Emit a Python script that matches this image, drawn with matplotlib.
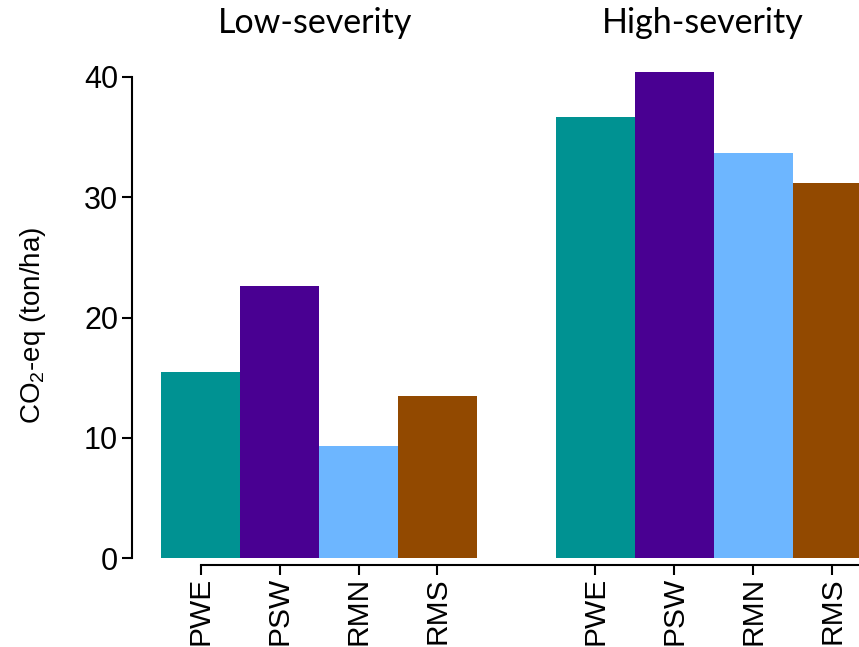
import matplotlib
matplotlib.use("Agg")
import matplotlib.pyplot as plt
import numpy as np

# Dados
sites = ['PWE', 'PSW', 'RMN', 'RMS']
low_severity = [15.5, 22.6, 9.3, 13.5]
high_severity = [36.7, 40.4, 33.7, 31.2]
cores = ['#009292', '#490092', '#6DB6FF', '#924900']

plt.rcParams['font.family'] = 'Liberation Sans'
plt.rcParams['mathtext.fontset'] = 'custom'
plt.rcParams['mathtext.rm'] = 'Liberation Sans'
plt.rcParams['mathtext.it'] = 'Liberation Sans:italic'

fig = plt.figure(figsize=(8.59, 6.47), dpi=100)
W, H = 859, 647
ax = fig.add_axes([132 / W, (H - 558) / H, 1 - 132 / W, (558 - 20) / H])

# Posições das barras: dois grupos separados por um espaço de duas barras
x_low = np.arange(4)
x_high = np.arange(4) + 5
ax.bar(x_low, low_severity, width=1.0, color=cores, linewidth=0)
ax.bar(x_high, high_severity, width=1.0, color=cores, linewidth=0)

ax.set_xlim(-0.87, 8.34)
ax.set_ylim(0, 40 * 538 / 481)

# Eixos no estilo R
for s in ['top', 'right']:
    ax.spines[s].set_visible(False)
ax.spines['left'].set_bounds(0, 40)
ax.spines['bottom'].set_position(('outward', 5))
ax.spines['bottom'].set_bounds(0, 8.34)
for s in ['left', 'bottom']:
    ax.spines[s].set_linewidth(1.5)

ax.set_yticks([0, 10, 20, 30, 40])
ax.set_xticks(list(x_low) + list(x_high))
ax.set_xticklabels(sites + sites, rotation=90)
ax.tick_params(axis='y', length=7, width=1.5, pad=3, labelsize=22)
ax.tick_params(axis='x', length=7.2, width=1.5, pad=1.5, labelsize=21.5)

fig.text(33 / W, (H - 325) / H, r'CO$_2$-eq (ton/ha)', rotation=90,
         ha='center', va='center', fontsize=20)

# Títulos dos grupos
fig.text(315 / W, (H - 23) / H, 'Low-severity', ha='center', va='center',
         fontsize=24.5, family='Lato')
fig.text(703 / W, (H - 23) / H, 'High-severity', ha='center', va='center',
         fontsize=24.5, family='Lato')

fig.savefig('out.png', dpi=100)
